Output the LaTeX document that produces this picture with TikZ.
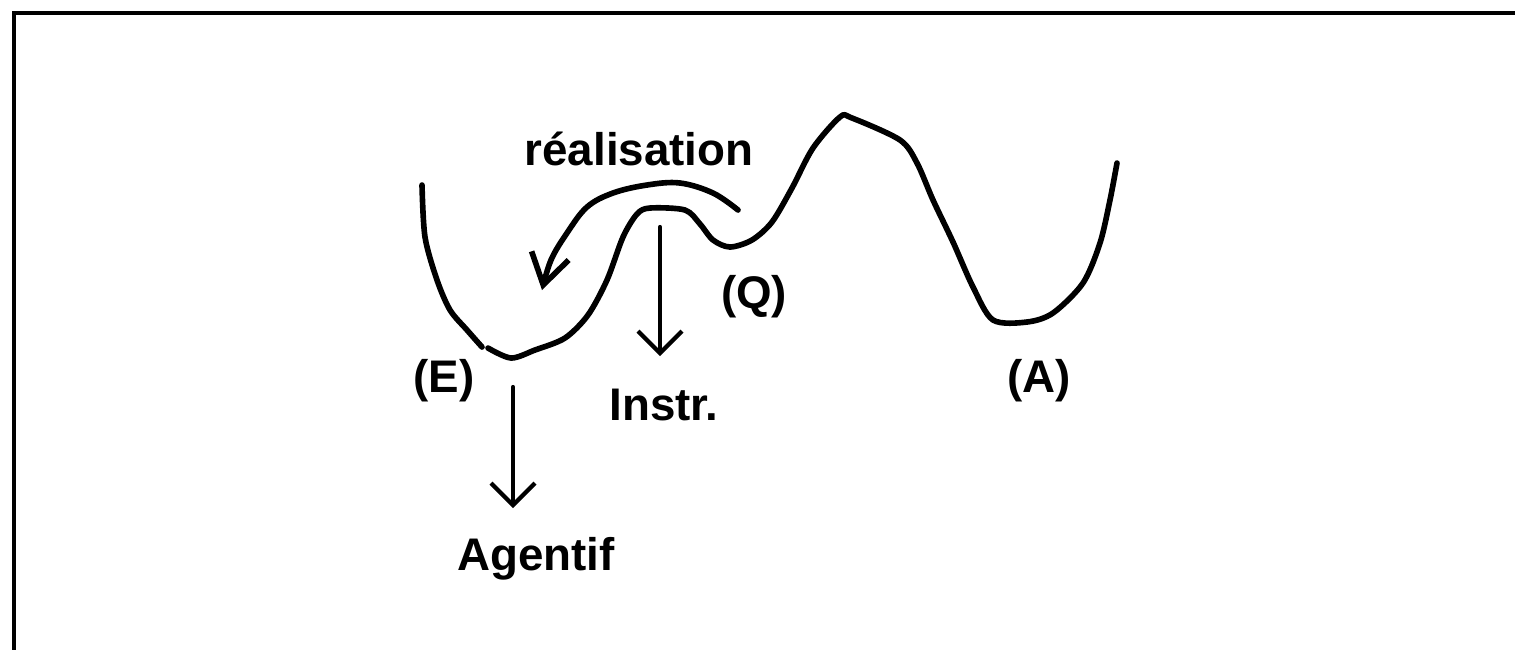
\documentclass[tikz,border=0pt]{standalone}
\usepackage{fontspec}
\setmainfont{Liberation Sans}
\usetikzlibrary{arrows.meta}

\begin{document}
\begin{tikzpicture}[x=0.01cm,y=-0.01cm]
    \tikzset{
      lbl/.style={anchor=base,inner sep=0pt,font=\fontsize{13}{15}\selectfont\bfseries},
      curve/.style={line width=1.6pt,line join=round,line cap=round},
      arrow/.style={-{Straight Barb[length=2.2mm,width=4.4mm]},line width=1.2pt,line cap=round}
    }
    \useasboundingbox (0,0) rectangle (1515,650);
    \draw[line width=1.4pt] (1515,13) -- (14,13) -- (14,650);
    \draw[curve] plot[smooth,tension=0.5] coordinates {(422,185) (425,237) (437,280) (450,310) (467,330) (482,347)};
    \draw[curve] plot[smooth,tension=0.5] coordinates {(488,348) (511,358) (535,350) (565,338) (588,315) (607,280) (623,237) (637,214) (650,208) (685,210) (700,224) (713,240) (730,247) (752,240) (772,222) (792,188) (813,148) (840,117) (852,118) (900,140) (917,163) (933,200) (953,242) (973,287) (993,320) (1027,322) (1053,313) (1083,283) (1100,243) (1110,200) (1117,163)};
    \draw[curve,-{Straight Barb[length=3mm,width=3.8mm]}] plot[smooth,tension=0.6] coordinates {(738,210) (713,193) (680,183) (647,185) (613,193) (587,207) (567,233) (551,260) (542,290)};
    \node[lbl] (real) at (639,165) {réalisation};
    \node[lbl] (e) at (444,392) {(E)};
    \node[lbl] (q) at (754,308) {(Q)};
    \node[lbl] (a) at (1039,392) {(A)};
    \node[lbl] (instr) at (664,420) {Instr.};
    \node[lbl] (agentif) at (536,570) {Agentif};
    \coordinate (etop) at (513,387);
    \coordinate (etip) at (513,508);
    \coordinate (qtop) at (660,227);
    \coordinate (qtip) at (660,356);
    \draw[arrow] (etop) -- (etip);
    \draw[arrow] (qtop) -- (qtip);
  \end{tikzpicture}
\end{document}
